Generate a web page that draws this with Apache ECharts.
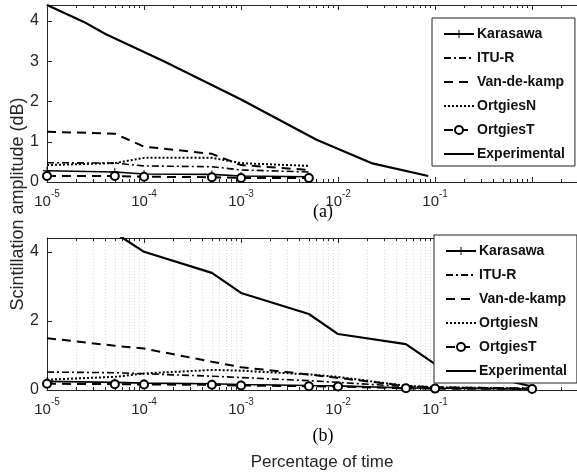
<!DOCTYPE html>
<html><head><meta charset="utf-8">
<script src="https://cdn.jsdelivr.net/npm/echarts@6/dist/echarts.min.js"></script>
<style>html,body{margin:0;padding:0;background:#fff}#c{width:577px;height:474px}</style>
</head><body><div id="c"></div>
<script>
// ---------- data ----------
const seriesNames = ['Karasawa', 'ITU-R', 'Van-de-kamp', 'OrtgiesN', 'OrtgiesT', 'Experimental'];

// panel (a)
const xModelA = [1e-5, 5e-5, 1e-4, 5e-4, 1e-3, 5e-3];
const karasawaA = [0.28, 0.25, 0.20, 0.19, 0.15, 0.13];
const ituA = [0.48, 0.47, 0.40, 0.38, 0.30, 0.25];
const vanA = [1.25, 1.20, 0.88, 0.70, 0.42, 0.30];
const ortNA = [0.42, 0.47, 0.60, 0.60, 0.47, 0.40];
const ortTA = [0.15, 0.15, 0.13, 0.12, 0.10, 0.10];
const xExpA = [1e-5, 2.4e-5, 4e-5, 1.6e-4, 1e-3, 6e-3, 2.2e-2, 8.5e-2];
const expA = [4.40, 3.98, 3.68, 3.00, 2.05, 1.05, 0.47, 0.15];

// panel (b)
const xModelB = [1e-5, 5e-5, 1e-4, 5e-4, 1e-3, 5e-3, 1e-2, 5e-2, 1e-1, 1];
const karasawaB = [0.25, 0.22, 0.20, 0.18, 0.16, 0.13, 0.12, 0.06, 0.05, 0.03];
const ituB = [0.52, 0.50, 0.47, 0.40, 0.36, 0.27, 0.22, 0.10, 0.07, 0.04];
const vanB = [1.50, 1.28, 1.20, 0.82, 0.66, 0.45, 0.35, 0.12, 0.08, 0.04];
const ortNB = [0.30, 0.38, 0.48, 0.58, 0.56, 0.45, 0.38, 0.12, 0.08, 0.04];
const ortTB = [0.18, 0.17, 0.16, 0.15, 0.13, 0.11, 0.10, 0.05, 0.04, 0.03];
const xExpB = [5e-5, 1e-4, 5e-4, 1e-3, 5e-3, 1e-2, 5e-2, 1e-1, 1];
const expB = [4.55, 4.00, 3.39, 2.81, 2.20, 1.62, 1.33, 0.75, 0.10];

// ticks
const xMajorTicks = [1e-5, 1e-4, 1e-3, 1e-2, 1e-1, 1];
const xTickLabels = ['-5', '-4', '-3', '-2', '-1'];   // exponents shown as 10^n
const yTicksA = [0, 1, 2, 3, 4];
const yTicksB = [0, 2, 4];

// ---------- helpers ----------
const X_MIN = 1e-5, X_MAX = 2.9, Y_MAX = 4.4;
const FONT = 'Liberation Sans, Arial, Helvetica, sans-serif';
const AX = '#262626';

const allTicks = [];
xMajorTicks.forEach(m => { for (let k = 1; k <= 9; k++) { const v = +(m * k).toPrecision(3); if (v <= X_MAX) allTicks.push(v); } });

function pairs(xs, ys) { return xs.map((x, i) => [x, ys[i]]); }

function xAxesFor(grid, showGrid) {
  const base = { type: 'log', logBase: 10, min: X_MIN, max: X_MAX, gridIndex: grid };
  return [
    Object.assign({}, base, {
      position: 'bottom',
      axisLine: { show: true, lineStyle: { color: AX, width: 1 } },
      axisTick: { show: true, inside: true, length: 5, customValues: xMajorTicks, lineStyle: { color: AX } },
      axisLabel: {
        show: true, margin: 7, customValues: xMajorTicks.slice(0, xTickLabels.length),
        formatter: v => {
          const i = xMajorTicks.findIndex(t => Math.abs(Math.log10(t) - Math.log10(v)) < 1e-6);
          return i >= 0 && i < xTickLabels.length ? '{b|10}{s|' + xTickLabels[i] + '}' : '';
        },
        rich: {
          b: { fontSize: 15, fontFamily: FONT, color: AX, lineHeight: 20, verticalAlign: 'bottom' },
          s: { fontSize: 10, fontFamily: FONT, color: AX, lineHeight: 13, verticalAlign: 'top' }
        }
      },
      splitLine: { show: false }
    }),
    Object.assign({}, base, {
      position: 'bottom',
      axisLine: { show: false },
      axisTick: { show: true, inside: true, length: 3, customValues: allTicks, lineStyle: { color: AX } },
      axisLabel: { show: false },
      splitLine: { show: showGrid, lineStyle: { color: '#d8d8d8', type: [1, 2], width: 1 } }
    }),
    Object.assign({}, base, {
      position: 'top',
      axisLine: { show: true, lineStyle: { color: AX, width: 1 } },
      axisTick: { show: true, inside: true, length: 5, customValues: xMajorTicks, lineStyle: { color: AX } },
      axisLabel: { show: false },
      splitLine: { show: false }
    }),
    Object.assign({}, base, {
      position: 'top',
      axisLine: { show: false },
      axisTick: { show: true, inside: true, length: 3, customValues: allTicks, lineStyle: { color: AX } },
      axisLabel: { show: false },
      splitLine: { show: false }
    })
  ];
}

function yAxisFor(grid, ticks) {
  return {
    type: 'value', gridIndex: grid, min: 0, max: Y_MAX, interval: ticks[1] - ticks[0],
    axisLine: { show: true, lineStyle: { color: AX, width: 1 } },
    axisTick: { show: true, inside: true, length: 5, customValues: ticks, lineStyle: { color: AX } },
    axisLabel: { customValues: ticks, fontSize: 16, fontFamily: FONT, color: AX, margin: 8 },
    splitLine: { show: false }
  };
}

const crossPath = 'path://M-1,-0.12H1V0.12H-1Z M-0.12,-1H0.12V1H-0.12Z';
const styles = {
  'Karasawa': { lineStyle: { type: 'solid', width: 1.6 }, symbol: crossPath, symbolSize: 8, showSymbol: true },
  'ITU-R': { lineStyle: { type: [7, 3, 2, 3], width: 1.6 }, symbol: 'none' },
  'Van-de-kamp': { lineStyle: { type: [9, 6], width: 2 }, symbol: 'none' },
  'OrtgiesN': { lineStyle: { type: [2, 2], width: 2 }, symbol: 'none' },
  'OrtgiesT': { lineStyle: { type: [9, 6], width: 2 }, symbol: 'emptyCircle', symbolSize: 8, showSymbol: true,
                itemStyle: { color: '#000', borderColor: '#000', borderWidth: 2 } },
  'Experimental': { lineStyle: { type: 'solid', width: 2.2 }, symbol: 'none' }
};

function mkSeries(name, data, xi, yi) {
  const s = styles[name];
  return Object.assign({
    name, type: 'line', data, xAxisIndex: xi, yAxisIndex: yi,
    color: '#000', itemStyle: { color: '#000' }, animation: false, clip: true, silent: true,
    showSymbol: false
  }, s, { lineStyle: Object.assign({ color: '#000' }, s.lineStyle) });
}

const series = [
  mkSeries('Karasawa', pairs(xModelA, karasawaA), 0, 0),
  mkSeries('ITU-R', pairs(xModelA, ituA), 0, 0),
  mkSeries('Van-de-kamp', pairs(xModelA, vanA), 0, 0),
  mkSeries('OrtgiesN', pairs(xModelA, ortNA), 0, 0),
  mkSeries('OrtgiesT', pairs(xModelA, ortTA), 0, 0),
  mkSeries('Experimental', pairs(xExpA, expA), 0, 0),
  mkSeries('Karasawa', pairs(xModelB, karasawaB), 4, 1),
  mkSeries('ITU-R', pairs(xModelB, ituB), 4, 1),
  mkSeries('Van-de-kamp', pairs(xModelB, vanB), 4, 1),
  mkSeries('OrtgiesN', pairs(xModelB, ortNB), 4, 1),
  mkSeries('OrtgiesT', pairs(xModelB, ortTB), 4, 1),
  mkSeries('Experimental', pairs(xExpB, expB), 4, 1)
];

function legendAt(left, top) {
  return {
    data: seriesNames.map(n => styles[n].symbol === 'none'
      ? { name: n, itemStyle: { color: 'rgba(0,0,0,0)', borderWidth: 0, opacity: 0 } }
      : { name: n }),
    orient: 'vertical', left, top, selectedMode: false,
    itemWidth: 30, itemHeight: 10, itemGap: 10, padding: [9, 10, 5, 11],
    borderColor: '#222', borderWidth: 1, backgroundColor: '#fff',
    textStyle: { fontSize: 14, fontWeight: 'bold', fontFamily: FONT, color: '#111', padding: [0, 0, 0, -2] }
  };
}

const option = {
  backgroundColor: '#fff',
  animation: false,
  grid: [
    { left: 47, right: 0, top: 5, height: 177 },
    { left: 47, right: 0, top: 238, height: 152 }
  ],
  xAxis: [].concat(xAxesFor(0, false), xAxesFor(1, true)),
  yAxis: [yAxisFor(0, yTicksA), yAxisFor(1, yTicksB)],
  legend: [legendAt(432, 18), legendAt(434, 235)],
  series,
  graphic: [
    { type: 'text', x: 18, y: 204, rotation: Math.PI / 2,
      style: { text: 'Scintillation amplitude (dB)', font: '18px ' + FONT, fill: AX, align: 'center', verticalAlign: 'middle' } },
    { type: 'text', x: 322, y: 462,
      style: { text: 'Percentage of time', font: '17px ' + FONT, fill: AX, align: 'center', verticalAlign: 'middle' } },
    { type: 'text', x: 323, y: 212,
      style: { text: '(a)', font: '18px Liberation Serif, Times New Roman, serif', fill: '#000', align: 'center', verticalAlign: 'middle' } },
    { type: 'text', x: 323, y: 436,
      style: { text: '(b)', font: '18px Liberation Serif, Times New Roman, serif', fill: '#000', align: 'center', verticalAlign: 'middle' } }
  ]
};

const chart = echarts.init(document.getElementById('c'), null, { renderer: 'canvas' });
chart.setOption(option);
</script>
</body></html>
